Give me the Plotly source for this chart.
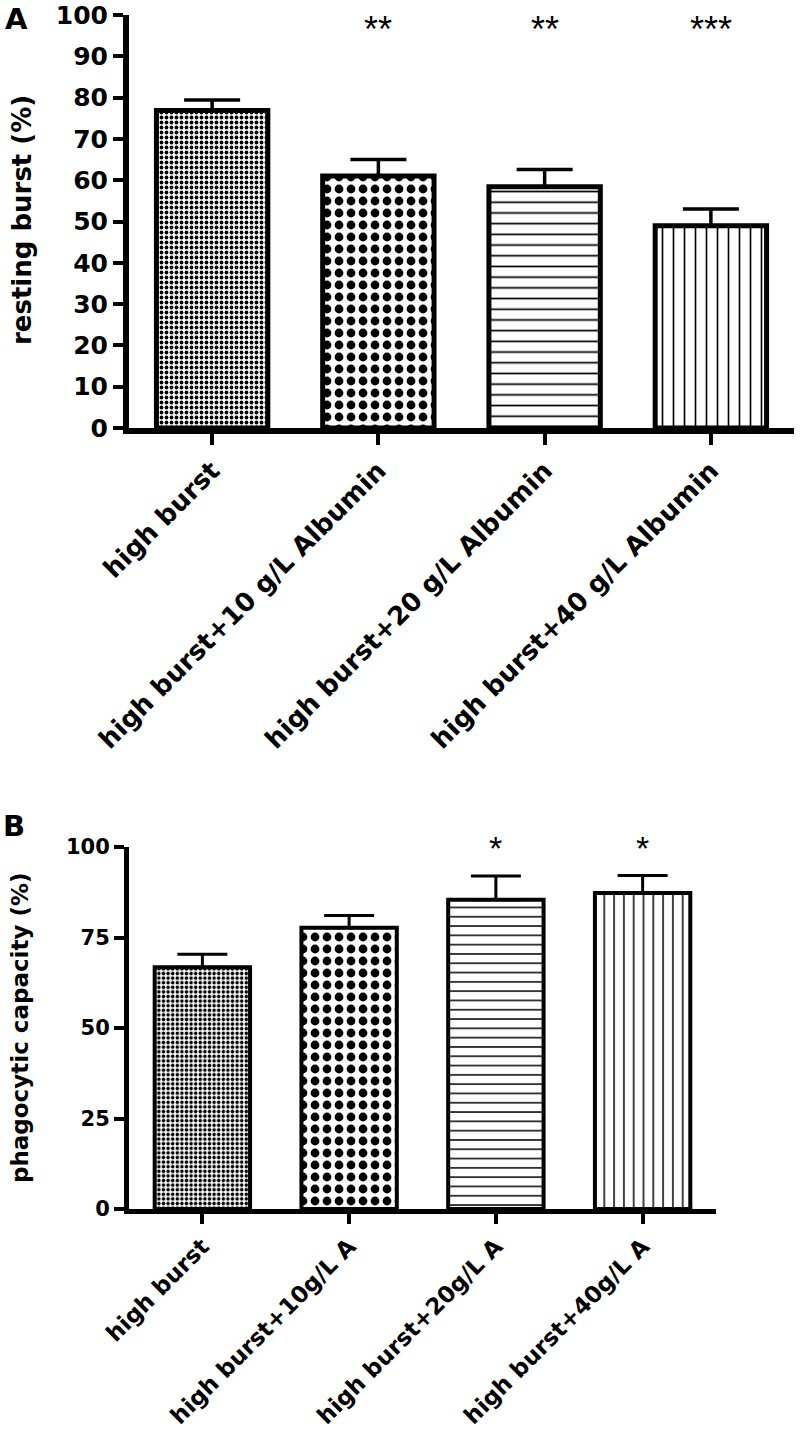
import plotly.graph_objects as go

# ---------------- data ----------------
cats_a = ["high burst", "high burst+10 g/L Albumin", "high burst+20 g/L Albumin", "high burst+40 g/L Albumin"]
vals_a = [76.9, 61.0, 58.4, 49.0]
err_a = [2.5, 4.0, 4.2, 4.0]
stars_a = ["", "**", "**", "***"]

cats_b = ["high burst", "high burst+10g/L A", "high burst+20g/L A", "high burst+40g/L A"]
vals_b = [66.8, 77.7, 85.4, 87.3]
err_b = [3.6, 3.4, 6.6, 4.8]
stars_b = ["", "", "*", "*"]

yticks_a = [0, 10, 20, 30, 40, 50, 60, 70, 80, 90, 100]
yticks_b = [0, 25, 50, 75, 100]

# styles
shapes = [".", ".", "-", "|"]
sizes_a = [5, 12, 10.7, 11]
sizes_b = [4.6, 12, 9.3, 9.8]
solid_a = [0.45, 0.42, 0.16, 0.15]
solid_b = [0.45, 0.42, 0.16, 0.15]

W, H = 800, 1437
FONT = "DejaVu Sans"

def px_x(p):
    return p / W

def px_y(p):
    return 1 - p / H

fig = go.Figure()

fig.add_trace(go.Bar(
    x=cats_a, y=vals_a, xaxis="x", yaxis="y", width=0.67,
    marker=dict(color="white", line=dict(color="black", width=5),
                pattern=dict(shape=shapes, size=sizes_a, solidity=solid_a,
                             fgcolor="black", bgcolor="white", fillmode="replace")),
    error_y=dict(type="data", symmetric=False, array=err_a, arrayminus=[0] * 4,
                 color="black", thickness=3.5, width=28),
    showlegend=False,
))

fig.add_trace(go.Bar(
    x=cats_b, y=vals_b, xaxis="x2", yaxis="y2", width=0.65,
    marker=dict(color="white", line=dict(color="black", width=4),
                pattern=dict(shape=shapes, size=sizes_b, solidity=solid_b,
                             fgcolor="black", bgcolor="white", fillmode="replace")),
    error_y=dict(type="data", symmetric=False, array=err_b, arrayminus=[0] * 4,
                 color="black", thickness=3, width=25),
    showlegend=False,
))

axis_common = dict(showgrid=False, zeroline=False, showline=True, linecolor="black",
                   ticks="outside", tickcolor="black", automargin=False,
                   ticklabeloverflow="allow")

fig.update_layout(
    width=W, height=H,
    margin=dict(l=0, r=0, t=0, b=0),
    paper_bgcolor="white", plot_bgcolor="white",
    font=dict(family=FONT, color="black"),
    xaxis=dict(domain=[px_x(129), px_x(794)], anchor="y", range=[-0.5, 3.5],
               type="category", linewidth=6, ticklen=11, tickwidth=4,
               tickangle=-45, tickfont=dict(family=FONT, size=26, weight="bold"),
               **axis_common),
    yaxis=dict(domain=[px_y(428), px_y(15)], anchor="x", range=[0, 100],
               tickvals=yticks_a, linewidth=6, ticklen=10, tickwidth=4,
               tickfont=dict(family=FONT, size=25, weight="bold"),
               **axis_common),
    xaxis2=dict(domain=[px_x(129), px_x(716)], anchor="y2", range=[-0.5, 3.5],
                type="category", linewidth=5, ticklen=10, tickwidth=4,
                tickangle=-45, tickfont=dict(family=FONT, size=23, weight="bold"),
                **axis_common),
    yaxis2=dict(domain=[px_y(1209), px_y(847)], anchor="x2", range=[0, 100],
                tickvals=yticks_b, linewidth=5, ticklen=10, tickwidth=4,
                tickfont=dict(family=FONT, size=21, weight="bold"),
                **axis_common),
)

ann = []
for c, s in zip(cats_a, stars_a):
    if s:
        ann.append(dict(x=c, y=96.6, xref="x", yref="y", text=s, showarrow=False,
                        yanchor="middle", font=dict(family="Liberation Sans", size=36)))
for c, s in zip(cats_b, stars_b):
    if s:
        ann.append(dict(x=c, y=99.6, xref="x2", yref="y2", text=s, showarrow=False,
                        yanchor="middle", font=dict(family="Liberation Sans", size=34)))

ann.append(dict(x=px_x(16), y=px_y(19), xref="paper", yref="paper", text="A",
                showarrow=False, xanchor="center", yanchor="middle",
                font=dict(family=FONT, size=29, weight="bold")))
ann.append(dict(x=px_x(14), y=px_y(826), xref="paper", yref="paper", text="B",
                showarrow=False, xanchor="center", yanchor="middle",
                font=dict(family=FONT, size=29, weight="bold")))
ann.append(dict(x=px_x(22), y=px_y(220), xref="paper", yref="paper",
                text="resting burst (%)", textangle=-90, showarrow=False,
                xanchor="center", yanchor="middle",
                font=dict(family=FONT, size=26, weight="bold")))
ann.append(dict(x=px_x(20), y=px_y(1028), xref="paper", yref="paper",
                text="phagocytic capacity (%)", textangle=-90, showarrow=False,
                xanchor="center", yanchor="middle",
                font=dict(family=FONT, size=23, weight="bold")))

fig.update_layout(annotations=ann)

fig.write_html("out.html", config={"displayModeBar": False},
               post_script="document.body.style.margin='0';")
